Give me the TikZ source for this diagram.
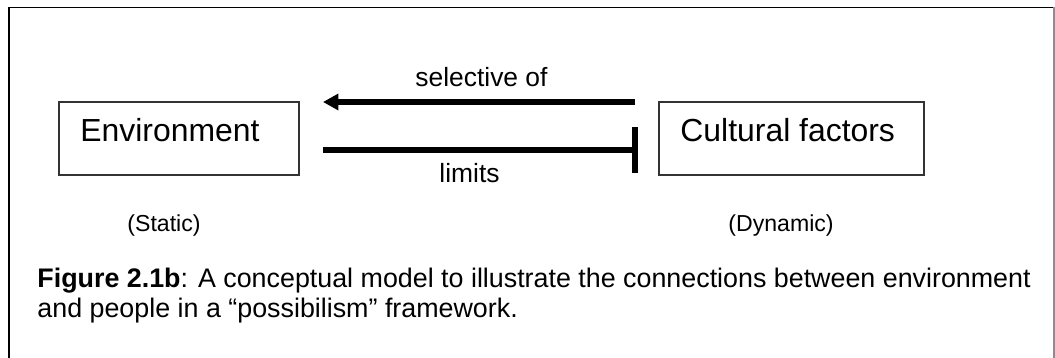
\documentclass[tikz,border=0pt]{standalone}
\usepackage{fontspec}
\setmainfont{Liberation Sans}
\usetikzlibrary{arrows.meta}
\begin{document}
\begin{tikzpicture}[x=0.4545pt,y=-0.4545pt,
  box/.style={draw=black!80, line width=0.8pt, rectangle, inner sep=0pt},
  boxtext/.style={anchor=base west, inner sep=0pt, font=\fontsize{14.5}{16}\selectfont},
  lbl/.style={anchor=base west, inner sep=0pt, font=\fontsize{12}{14}\selectfont},
  note/.style={anchor=base west, inner sep=0pt, font=\fontsize{10.5}{12}\selectfont},
  captext/.style={anchor=base west, inner sep=0pt, font=\fontsize{12.2}{13.6}\selectfont},
  conn/.style={line width=2.3pt},
]
\useasboundingbox (0,0) rectangle (1055,358);

% outer frame (open at the bottom)
\draw[line width=0.9pt] (9,380) -- (9,7.5) -- (1054,7.5);
\draw[black!45, line width=0.7pt] (1054,7.5) -- (1054,380);

% the two boxes
\node[box, minimum width=109.1pt, minimum height=33.2pt] (env) at (179,138.5) {};
\node[boxtext] (envt) at (80,142) {Environment};
\node[box, minimum width=120.4pt, minimum height=33.2pt] (cult) at (791.5,138.5) {};
\node[boxtext] (cultt) at (680,142) {Cultural factors};

% end points of the connectors
\coordinate (selA) at (635,102);
\coordinate (selB) at (323,102);
\coordinate (limA) at (323,150);
\coordinate (limB) at (635,150);
\coordinate (barT) at (635,127);
\coordinate (barB) at (635,173);

% connectors
\draw[conn, -{Triangle[length=7pt,width=7.2pt]}] (selA) -- (selB);
\draw[conn] (limA) -- (limB);
\draw[conn] (barT) -- (barB);

% connector labels
\node[lbl] (sel) at (415,87) {selective of};
\node[lbl] (lim) at (439,183) {limits};

% notes under the boxes
\node[note] (static) at (127,232) {(Static)};
\node[note] (dynamic) at (728,232) {(Dynamic)};

% caption
\node[captext] (cap1) at (37,288) {\textbf{Figure 2.1b}: A conceptual model to illustrate the connections between environment};
\node[captext] (cap2) at (37,318) {and people in a “possibilism” framework.};
\end{tikzpicture}
\end{document}
